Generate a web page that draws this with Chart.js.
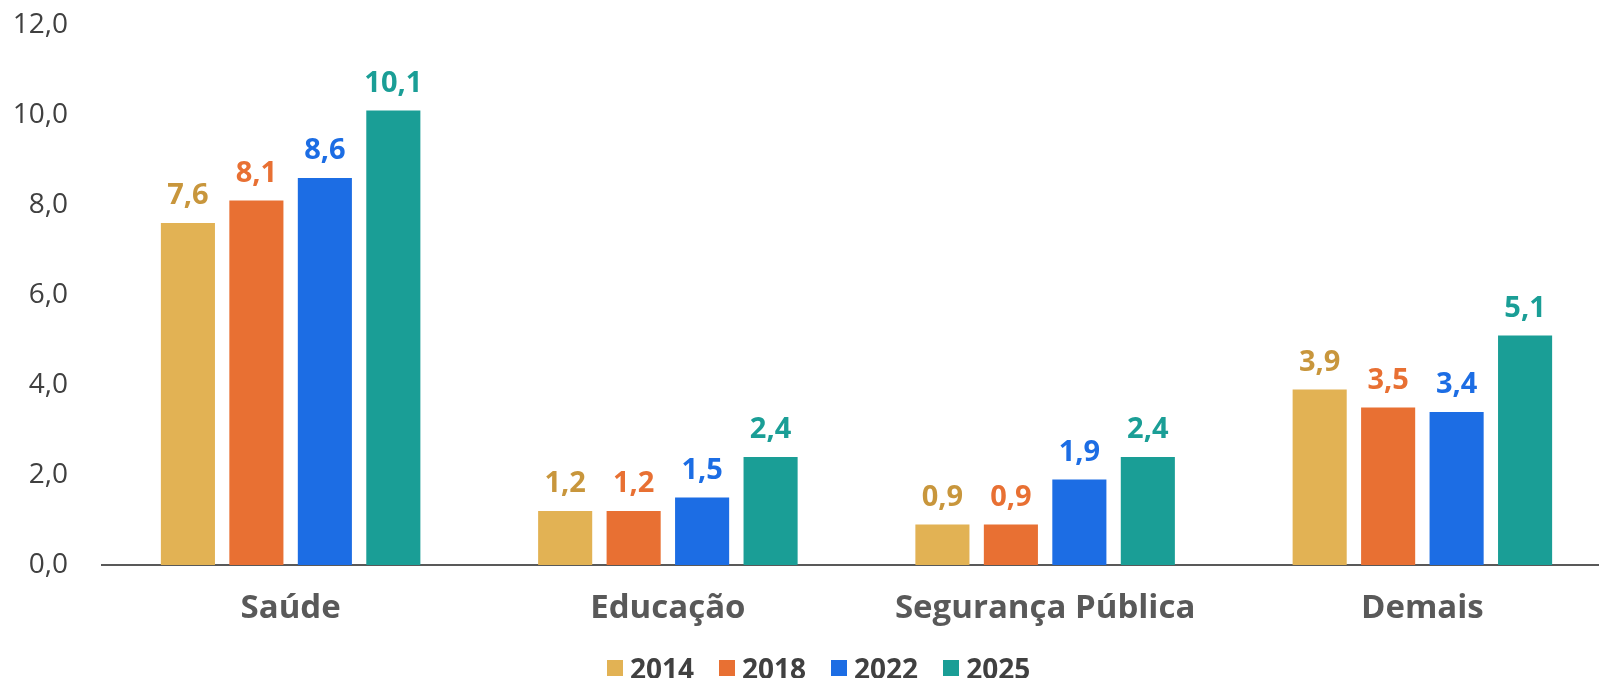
<!DOCTYPE html>
<html>
<head>
<meta charset="utf-8">
<script src="https://cdn.jsdelivr.net/npm/chart.js@4.4.1/dist/chart.umd.min.js"></script>
<style>
  html, body { margin: 0; padding: 0; background: #fff; overflow: hidden; }
  #wrap { position: relative; width: 1612px; height: 678px; }
  #legend {
    position: absolute; left: 607px; top: 650px;
    display: flex; align-items: center;
    font-family: 'Open Sans', sans-serif; font-weight: 700; font-size: 28px;
    line-height: 36px; color: #404040;
  }
  #legend .item { display: flex; align-items: center; margin-right: 25px; }
  #legend .box { width: 16px; height: 16px; margin-right: 7px; }
</style>
</head>
<body>
<div id="wrap">
  <canvas id="chart1" width="1612" height="678"></canvas>
  <div id="legend"></div>
</div>
<script>
// categorias e séries
const categories = ['Saúde', 'Educação', 'Segurança Pública', 'Demais'];
const years = ['2014', '2018', '2022', '2025'];
const v2014 = [7.6, 1.2, 0.9, 3.9];
const v2018 = [8.1, 1.2, 0.9, 3.5];
const v2022 = [8.6, 1.5, 1.9, 3.4];
const v2025 = [10.1, 2.4, 2.4, 5.1];
const yTicks = [0, 2, 4, 6, 8, 10, 12];

const barColors = ['#E2B254', '#E87033', '#1C6DE4', '#1A9E96'];
const labelColors = ['#C8963C', '#E87033', '#1C6DE4', '#1A9E96'];

const fmt = v => v.toFixed(1).replace('.', ',');

const chartData = {
  labels: categories,
  datasets: [v2014, v2018, v2022, v2025].map((vals, i) => ({
    label: years[i],
    data: vals,
    backgroundColor: barColors[i],
    borderWidth: 0,
    categoryPercentage: 0.726,
    barPercentage: 0.79,
  })),
};

// rótulos de valor acima das barras
const valueLabels = {
  id: 'valueLabels',
  afterDatasetsDraw(chart) {
    const ctx = chart.ctx;
    ctx.save();
    ctx.font = "700 29px 'Open Sans', sans-serif";
    ctx.textAlign = 'center';
    ctx.textBaseline = 'alphabetic';
    chart.data.datasets.forEach((ds, i) => {
      const meta = chart.getDatasetMeta(i);
      ctx.fillStyle = labelColors[i];
      meta.data.forEach((bar, j) => {
        ctx.fillText(fmt(ds.data[j]), bar.x, bar.y - 19);
      });
    });
    ctx.restore();
  },
};

var ctx1 = document.getElementById('chart1').getContext('2d');
var chart1 = new Chart(ctx1, {
  type: 'bar',
  data: chartData,
  plugins: [valueLabels],
  options: {
    responsive: false,
    animation: false,
    layout: {
      padding: { top: 25, right: 1, bottom: 0, left: 0 },
    },
    scales: {
      x: {
        grid: { display: false, drawTicks: false },
        border: { display: true, color: '#595959', width: 2 },
        ticks: {
          padding: 24,
          color: '#595959',
          font: { family: "'Open Sans', sans-serif", size: 33, weight: '700' },
        },
        afterFit(s) { s.height = 113; },
      },
      y: {
        min: 0,
        max: 12,
        afterBuildTicks(s) { s.ticks = yTicks.map(v => ({ value: v })); },
        grid: { display: false, drawTicks: false },
        border: { display: false },
        ticks: {
          padding: 34,
          color: '#404040',
          font: { family: "'Open Sans', sans-serif", size: 28, weight: '400' },
          callback: v => fmt(v),
        },
        afterFit(s) {
          s.width = 102;
          s.paddingTop = 0;
          s.paddingBottom = 0;
        },
      },
    },
    plugins: {
      legend: { display: false },
      tooltip: { enabled: false },
    },
  },
});

const legend = document.getElementById('legend');
years.forEach((y, i) => {
  const item = document.createElement('div');
  item.className = 'item';
  const box = document.createElement('span');
  box.className = 'box';
  box.style.background = barColors[i];
  const txt = document.createElement('span');
  txt.textContent = y;
  item.appendChild(box);
  item.appendChild(txt);
  legend.appendChild(item);
});
</script>
</body>
</html>
